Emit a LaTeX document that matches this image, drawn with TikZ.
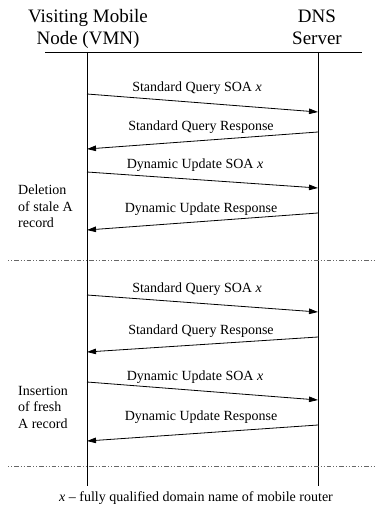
\documentclass[tikz,border=0pt]{standalone}
\usepackage{fontspec}
\setmainfont{Liberation Serif}
\usetikzlibrary{arrows.meta}
\begin{document}
\begin{tikzpicture}[x=1pt,y=-1pt,
  head/.style={font=\fontsize{19}{22}\selectfont, align=center, inner sep=0pt},
  lbl/.style={font=\fontsize{14}{16.5}\selectfont, inner sep=0pt},
  side/.style={font=\fontsize{14}{16.5}\selectfont, align=left, inner sep=0pt, anchor=north west},
  life/.style={line width=0.8pt},
  msg/.style={line width=0.8pt, -{Triangle[length=9pt,width=5.5pt]}},
  sep/.style={line width=0.7pt, gray!80!black, dash pattern=on 1pt off 2pt on 1pt off 2pt on 4.5pt off 2pt}]
\useasboundingbox (0,0) rectangle (382,516);
% headers
\node[head] (vmn) at (88,29) {Visiting Mobile\\Node (VMN)};
\node[head] (dns) at (317,27) {DNS\\Server};
\coordinate (hl) at (45,52);
\coordinate (hr) at (362,52);
\draw[life] (hl) -- (hr);
% lifelines
\coordinate (lt) at (87,52);
\coordinate (lb) at (87,486);
\coordinate (rt) at (318,52);
\coordinate (rb) at (318,486);
\draw[life] (lt) -- (lb);
\draw[life] (rt) -- (rb);
% message endpoints
\foreach \n/\y in {a1/94,a2/149,a3/172,a4/230,a5/295,a6/352,a7/382,a8/441}
  \coordinate (L\n) at (87,\y);
\foreach \n/\y in {a1/112,a2/132,a3/188,a4/213,a5/312,a6/337,a7/400,a8/425}
  \coordinate (R\n) at (318,\y);
\draw[msg] (La1) -- (Ra1);
\draw[msg] (Ra2) -- (La2);
\draw[msg] (La3) -- (Ra3);
\draw[msg] (Ra4) -- (La4);
\draw[msg] (La5) -- (Ra5);
\draw[msg] (Ra6) -- (La6);
\draw[msg] (La7) -- (Ra7);
\draw[msg] (Ra8) -- (La8);
% labels
\node[lbl] (t1) at (197,88) {Standard Query SOA \textit{x}};
\node[lbl] (t2) at (201,127) {Standard Query Response};
\node[lbl] (t3) at (195,165) {Dynamic Update SOA \textit{x}};
\node[lbl] (t4) at (201,209) {Dynamic Update Response};
\node[lbl] (t5) at (197,289) {Standard Query SOA \textit{x}};
\node[lbl] (t6) at (201,331) {Standard Query Response};
\node[lbl] (t7) at (195,377) {Dynamic Update SOA \textit{x}};
\node[lbl] (t8) at (201,417) {Dynamic Update Response};
% side labels
\node[side] (del) at (18,185) {Deletion\\of stale A\\record};
\node[side] (ins) at (18,386) {Insertion\\of fresh\\A record};
% separators
\coordinate (s1l) at (8,260);
\coordinate (s1r) at (375,260);
\coordinate (s2l) at (8,466);
\coordinate (s2r) at (375,466);
\draw[sep] (s1l) -- (s1r);
\draw[sep] (s2l) -- (s2r);
% footnote
\node[lbl] (fn) at (196,498) {\textit{x} -- fully qualified domain name of mobile router};
\end{tikzpicture}
\end{document}
